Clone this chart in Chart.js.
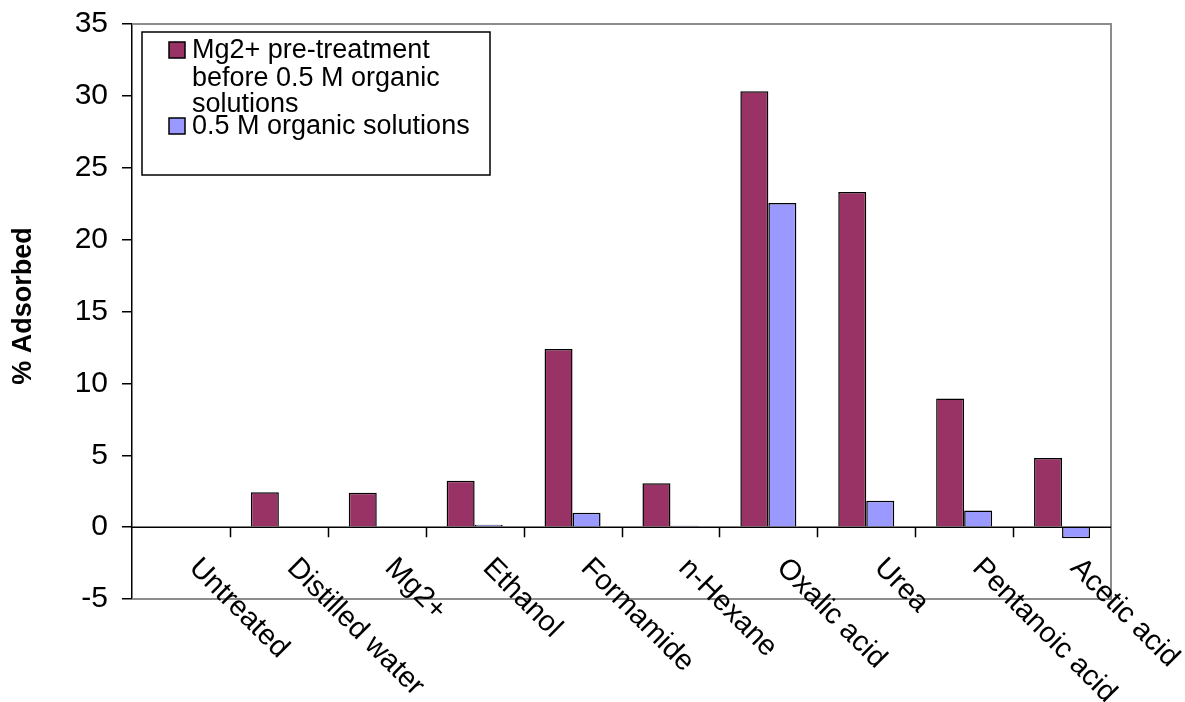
<!DOCTYPE html>
<html>
<head>
<meta charset="utf-8">
<script src="https://cdn.jsdelivr.net/npm/chart.js@4/dist/chart.umd.min.js"></script>
<style>
  html, body { margin: 0; padding: 0; background: #fff; }
  #wrap { width: 1185px; height: 702px; position: relative; }
</style>
</head>
<body>
<div id="wrap"><canvas id="adsorbChart"></canvas></div>
<script>
const categories = ["Untreated", "Distilled water", "Mg2+", "Ethanol", "Formamide",
    "n-Hexane", "Oxalic acid", "Urea", "Pentanoic acid", "Acetic acid"];
const mgPretreated = [0, 2.42, 2.40, 3.23, 12.4, 3.05, 30.32, 23.32, 8.94, 4.81];
const organicOnly = [0, 0, 0, 0.17, 1.0, 0.1, 22.55, 1.84, 1.15, -0.78];
const seriesNames = [
    ["Mg2+ pre-treatment", "before 0.5 M organic", "solutions"],
    ["0.5 M organic solutions"]
];
const yMin = -5, yMax = 35, yStep = 5;
const axisTitle = "% Adsorbed";

const FONT = "'Liberation Sans', Arial, sans-serif";

// frame, zero axis with its ticks, slanted category names, boxed legend, axis title
const excelDecor = {
    id: "excelDecor",
    beforeDatasetsDraw(chart) {
        const { ctx, chartArea: a } = chart;
        ctx.save();
        ctx.strokeStyle = "#8c8c8c";
        ctx.lineWidth = 2;
        ctx.beginPath();
        ctx.moveTo(a.left, a.top);
        ctx.lineTo(a.right, a.top);
        ctx.lineTo(a.right, a.bottom);
        ctx.lineTo(a.left, a.bottom);
        ctx.stroke();
        ctx.restore();
    },
    afterDatasetsDraw(chart) {
        const { ctx, chartArea: a } = chart;
        const xs = chart.scales.x, ys = chart.scales.y;
        const y0 = ys.getPixelForValue(0);
        const n = categories.length;
        const step = (a.right - a.left) / n;

        ctx.save();
        ctx.strokeStyle = "#000";
        ctx.lineWidth = 1.5;
        ctx.beginPath();
        ctx.moveTo(a.left, y0);
        ctx.lineTo(a.right, y0);
        for (let k = 1; k < n; k++) {
            const x = Math.round(a.left + k * step) + 0.5;
            ctx.moveTo(x, y0);
            ctx.lineTo(x, y0 + 10);
        }
        ctx.stroke();

        // category names run down to the right from each slot
        ctx.fillStyle = "#000";
        ctx.font = "29px " + FONT;
        ctx.textAlign = "left";
        ctx.textBaseline = "top";
        categories.forEach((name, i) => {
            const cx = xs.getPixelForValue(i);
            ctx.save();
            ctx.translate(cx + 23, y0 + 26);
            ctx.rotate(Math.PI / 4);
            ctx.fillText(name, 0, 0);
            ctx.restore();
        });

        // vertical axis title
        ctx.save();
        ctx.translate(24, 306);
        ctx.rotate(-Math.PI / 2);
        ctx.font = "bold 27px " + FONT;
        ctx.textAlign = "center";
        ctx.textBaseline = "middle";
        ctx.fillText(axisTitle, 0, 0);
        ctx.restore();

        // legend box
        const lx = 142, ly = 32, lw = 348, lh = 143;
        ctx.fillStyle = "#fff";
        ctx.fillRect(lx, ly, lw, lh);
        ctx.strokeStyle = "#000";
        ctx.lineWidth = 1.5;
        ctx.strokeRect(lx, ly, lw, lh);

        const baselines = [[58, 86, 112], [134]];
        ctx.font = "27px " + FONT;
        ctx.textAlign = "left";
        ctx.textBaseline = "alphabetic";
        chart.data.datasets.forEach((ds, d) => {
            const lines = seriesNames[d];
            const top = baselines[d][0] - 16;
            ctx.fillStyle = ds.backgroundColor;
            ctx.fillRect(169, top, 16, 16);
            ctx.strokeStyle = "#000";
            ctx.lineWidth = 1.5;
            ctx.strokeRect(169, top, 16, 16);
            ctx.fillStyle = "#000";
            lines.forEach((t, j) => ctx.fillText(t, 192, baselines[d][j]));
        });
        ctx.restore();
    }
};

new Chart(document.getElementById("adsorbChart"), {
    type: "bar",
    data: {
        labels: categories,
        datasets: [
            {
                label: seriesNames[0].join(" "),
                data: mgPretreated,
                backgroundColor: "#993366",
                borderColor: "#000",
                borderWidth: 1.5,
                categoryPercentage: 0.572,
                barPercentage: 1.0
            },
            {
                label: seriesNames[1].join(" "),
                data: organicOnly,
                backgroundColor: "#9999ff",
                borderColor: "#000",
                borderWidth: 1.5,
                categoryPercentage: 0.572,
                barPercentage: 1.0
            }
        ]
    },
    options: {
        responsive: true,
        maintainAspectRatio: false,
        animation: false,
        layout: { padding: { left: 0, top: 24, right: 74, bottom: 103 } },
        plugins: {
            legend: { display: false },
            tooltip: { enabled: false }
        },
        scales: {
            x: {
                display: false,
                offset: true
            },
            y: {
                min: yMin,
                max: yMax,
                afterFit(scale) {
                    scale.width = 132;
                    scale.paddingTop = 0;
                    scale.paddingBottom = 0;
                },
                ticks: {
                    stepSize: yStep,
                    color: "#000",
                    padding: 14,
                    font: { family: FONT, size: 30 }
                },
                grid: {
                    drawOnChartArea: false,
                    drawTicks: true,
                    tickLength: 10,
                    color: "#000",
                    lineWidth: 1.5
                },
                border: { color: "#000", width: 1.5 }
            }
        }
    },
    plugins: [excelDecor]
});
</script>
</body>
</html>
